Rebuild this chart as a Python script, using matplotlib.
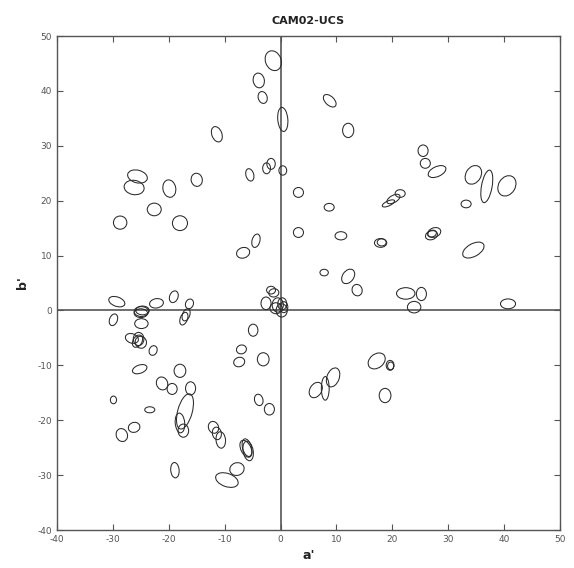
import matplotlib
matplotlib.use('Agg')
import matplotlib.pyplot as plt
from matplotlib.patches import Ellipse

plt.rcParams['axes.unicode_minus'] = False

# ellipse centres (a', b'), axis lengths and rotation (deg)
a_c = [-1.3, -3.9, -3.2, 0.4, -11.4, -2.5, -1.7, 0.4, -5.5, -25.6, -26.2, -19.9, -15.0, -22.6,
       -28.7, -18.0, -6.7, -4.4,
       -29.3, -29.9, -24.9, -24.7, -25.0, -24.9, -22.2, -19.1, -16.3, -17.3, -16.9,
       -26.6, -25.4, -25.0, -25.6, -22.8, -4.9, -7.0, -7.4, -3.1,
       -1.7, -1.2, -2.6, -0.5, 0.3, 0.2, -0.8, 0.6,
       -25.2, -29.9, -23.4, -28.4, -26.2, -21.2, -19.4, -18.0, -16.1, -17.1, -18.0, -17.4,
       -18.9, -12.0, -11.4, -10.7, -9.6, -7.8, -6.0, -5.8, -6.2, -3.9, -2.0,
       8.8, 12.1, 3.2, 8.7, 25.5, 25.9, 28.0, 34.5, 36.9, 40.5, 33.2, 21.4, 20.2, 19.3,
       3.2, 10.8, 17.9, 18.1, 27.0, 27.5, 27.1, 34.5, 7.8, 12.1, 13.7, 22.4, 25.2, 23.9, 40.7,
       6.3, 8.0, 9.4, 17.2, 19.6, 19.7, 18.7]
b_c = [45.5, 41.9, 38.8, 34.8, 32.1, 25.9, 26.7, 25.5, 24.7, 24.4, 22.4, 22.2, 23.8, 18.4,
       16.0, 15.9, 10.5, 12.7,
       1.6, -1.7, -0.2, 0.0, -0.5, -2.4, 1.3, 2.5, 1.2, -1.5, -0.8,
       -5.1, -5.2, -5.8, -5.6, -7.3, -3.6, -7.1, -9.4, -8.9,
       3.7, 3.2, 1.3, 1.0, 1.2, 0.0, 0.4, 0.6,
       -10.7, -16.3, -18.1, -22.7, -21.3, -13.3, -14.3, -11.0, -14.2, -18.4, -20.5, -21.9,
       -29.1, -21.3, -22.4, -23.6, -30.9, -28.9, -25.0, -25.6, -25.2, -16.3, -18.0,
       38.2, 32.8, 21.5, 18.8, 29.1, 26.8, 25.3, 24.7, 22.6, 22.7, 19.4, 21.3, 20.3, 19.5,
       14.2, 13.6, 12.3, 12.4, 13.7, 14.2, 14.0, 11.0, 6.9, 6.2, 3.7, 3.1, 3.0, 0.6, 1.2,
       -14.5, -14.2, -12.2, -9.2, -10.0, -10.1, -15.5]
ax_w = [2.8, 2.0, 1.6, 1.8, 1.8, 1.4, 1.5, 1.4, 1.4, 3.6, 3.6, 2.3, 2.0, 2.5,
        2.4, 2.7, 2.4, 1.4,
        3.0, 1.4, 2.6, 2.4, 2.4, 2.4, 2.5, 1.5, 1.4, 1.3, 1.3,
        2.4, 1.9, 2.0, 1.6, 1.4, 1.7, 1.8, 2.0, 2.1,
        1.6, 1.8, 1.8, 2.0, 1.6, 2.0, 2.2, 1.4,
        2.7, 1.1, 1.8, 2.0, 2.1, 2.0, 1.8, 2.1, 1.8, 2.6, 1.7, 1.9,
        1.5, 1.8, 1.6, 1.7, 4.2, 2.6, 1.6, 1.8, 1.8, 1.5, 1.8,
        2.8, 2.0, 1.8, 1.8, 1.8, 1.8, 3.4, 2.7, 1.9, 3.0, 1.8, 1.8, 2.6, 2.4,
        1.8, 2.1, 2.2, 1.6, 2.2, 2.4, 1.6, 4.2, 1.5, 2.0, 1.8, 3.3, 1.8, 2.4, 2.7,
        2.1, 1.4, 2.2, 3.4, 1.4, 1.1, 2.1]
ax_h = [3.7, 2.7, 2.2, 4.4, 2.9, 2.0, 2.0, 1.7, 2.3, 2.3, 2.6, 3.2, 2.4, 2.3,
        2.4, 2.7, 1.9, 2.5,
        1.7, 2.2, 1.8, 1.6, 1.6, 1.8, 1.7, 2.2, 1.8, 2.4, 2.3,
        1.7, 2.4, 2.2, 2.4, 1.8, 2.2, 1.6, 1.7, 2.4,
        1.4, 1.5, 2.3, 2.6, 2.2, 2.4, 2.0, 2.0,
        1.5, 1.4, 1.1, 2.4, 1.8, 2.4, 2.0, 2.4, 2.4, 6.6, 3.6, 2.4,
        2.8, 2.2, 2.3, 3.0, 2.4, 2.3, 3.3, 3.6, 3.3, 2.1, 2.1,
        1.6, 2.6, 1.8, 1.4, 2.1, 1.8, 1.8, 3.6, 6.0, 3.9, 1.4, 1.4, 1.3, 0.9,
        1.8, 1.5, 1.6, 1.3, 1.6, 1.7, 1.2, 2.3, 1.2, 2.9, 2.1, 2.1, 2.4, 2.1, 1.8,
        3.0, 4.3, 3.6, 2.5, 1.8, 1.4, 2.6]
rot = [20, 10, 15, 5, 20, 0, 0, 0, 15, -15, -10, 10, 10, 0,
       0, 0, 20, -15,
       -20, -20, 0, 0, 0, 0, 10, -20, -20, -20, -20,
       -20, 0, 20, -30, -20, 0, 20, 20, 0,
       0, 10, 0, 0, 0, 0, 0, 0,
       20, 0, 0, 20, 20, 20, 0, 0, 0, -15, 5, 0,
       5, 20, 10, 5, -20, 20, 15, 10, 25, 15, 0,
       -45, 0, 0, 0, 0, 0, 25, -30, -10, -30, 0, 0, 30, 25,
       0, 0, 0, 0, 20, 20, 20, 30, 0, -35, 15, 0, 0, 0, 0,
       -30, 0, -20, 40, 0, 0, 0]

x_ticks = [-40, -30, -20, -10, 0, 10, 20, 30, 40, 50]
y_ticks = [-40, -30, -20, -10, 0, 10, 20, 30, 40, 50]

fig = plt.figure(figsize=(5.74, 5.68), dpi=100)
ax = fig.add_axes([57 / 574, 38 / 568, 503 / 574, 494 / 568])

for x, y, w, h, r in zip(a_c, b_c, ax_w, ax_h, rot):
    ax.add_patch(Ellipse((x, y), w, h, angle=r, fill=False, edgecolor='#2a2a2a', linewidth=0.75))

ax.axhline(0, color='#555555', linewidth=1.2, zorder=0)
ax.axvline(0, color='#555555', linewidth=1.2, zorder=0)

ax.set_xlim(-40, 50)
ax.set_ylim(-40, 50)
ax.set_xticks(x_ticks)
ax.set_yticks(y_ticks)
ax.tick_params(direction='in', top=True, right=True, length=4, width=0.8,
               labelsize=6.5, labelcolor='#555555', color='#555555')
for s in ax.spines.values():
    s.set_color('#555555')
    s.set_linewidth(1.0)

ax.set_title('CAM02-UCS', fontsize=8, fontweight='bold', color='#222222', pad=9)
ax.set_xlabel("a'", fontsize=9, fontweight='bold', color='#222222', labelpad=4)
ax.set_ylabel("b'", fontsize=9, fontweight='bold', color='#222222', rotation=90, labelpad=6)

fig.savefig('out.png', dpi=100)
